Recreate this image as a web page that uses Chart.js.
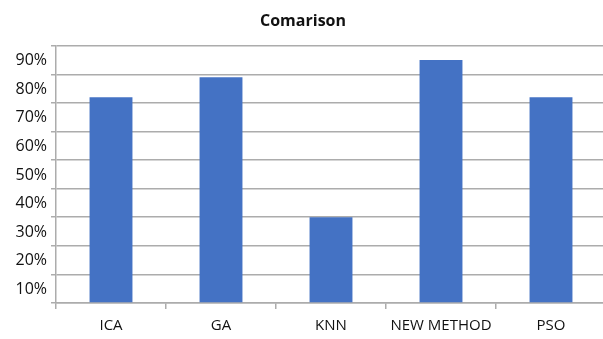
<!DOCTYPE html>
<html>
<head>
<meta charset="utf-8">
<script src="https://cdn.jsdelivr.net/npm/chart.js@4/dist/chart.umd.min.js"></script>
<style>
  html, body { margin: 0; padding: 0; background: #ffffff; overflow: hidden; }
  #wrap { width: 606px; height: 339px; position: relative; }
</style>
</head>
<body>
<div id="wrap"><canvas id="chart"></canvas></div>
<script>
// Methods compared and their scores (percent)
const categories = ['ICA', 'GA', 'KNN', 'NEW METHOD', 'PSO'];
const scores = [72, 79, 30, 85, 72];

// Value axis range and step (percent)
const axisMin = 0;
const axisMax = 90;
const axisStep = 10;

const FONT = "'Open Sans', 'Noto Sans', Arial, sans-serif";
const GRID = '#acacac';

new Chart(document.getElementById('chart'), {
  type: 'bar',
  data: {
    labels: categories,
    datasets: [{
      label: 'Comarison',
      data: scores,
      backgroundColor: '#4472C4',
      borderWidth: 0,
      categoryPercentage: 1.0,
      barPercentage: 0.39
    }]
  },
  options: {
    responsive: true,
    maintainAspectRatio: false,
    animation: false,
    layout: { padding: { left: 0, right: 0, top: 0, bottom: 0 } },
    plugins: {
      legend: { display: false },
      tooltip: { enabled: false },
      title: {
        display: true,
        text: 'Comarison',
        color: '#111',
        font: { family: FONT, size: 16, weight: 'bold' },
        padding: { top: 12, bottom: 14.5 }
      }
    },
    scales: {
      x: {
        afterFit: (axis) => { axis.height = 36; },
        grid: {
          offset: true,
          drawOnChartArea: false,
          drawTicks: true,
          tickLength: 6,
          color: GRID,
          lineWidth: 1.5
        },
        border: { color: GRID, width: 1.5 },
        ticks: {
          color: '#111',
          font: { family: FONT, size: 15 },
          padding: 8,
          maxRotation: 0,
          autoSkip: false
        }
      },
      y: {
        min: axisMin,
        max: axisMax,
        afterFit: (axis) => { axis.width = 56; },
        grid: {
          color: GRID,
          lineWidth: 1.5,
          tickLength: 5
        },
        border: { color: GRID, width: 1.5 },
        ticks: {
          stepSize: axisStep,
          color: '#111',
          font: { family: FONT, size: 16 },
          padding: 4,
          labelOffset: 15,
          callback: (v) => (v === 0 ? '' : v + '%')
        }
      }
    }
  }
});
</script>
</body>
</html>
